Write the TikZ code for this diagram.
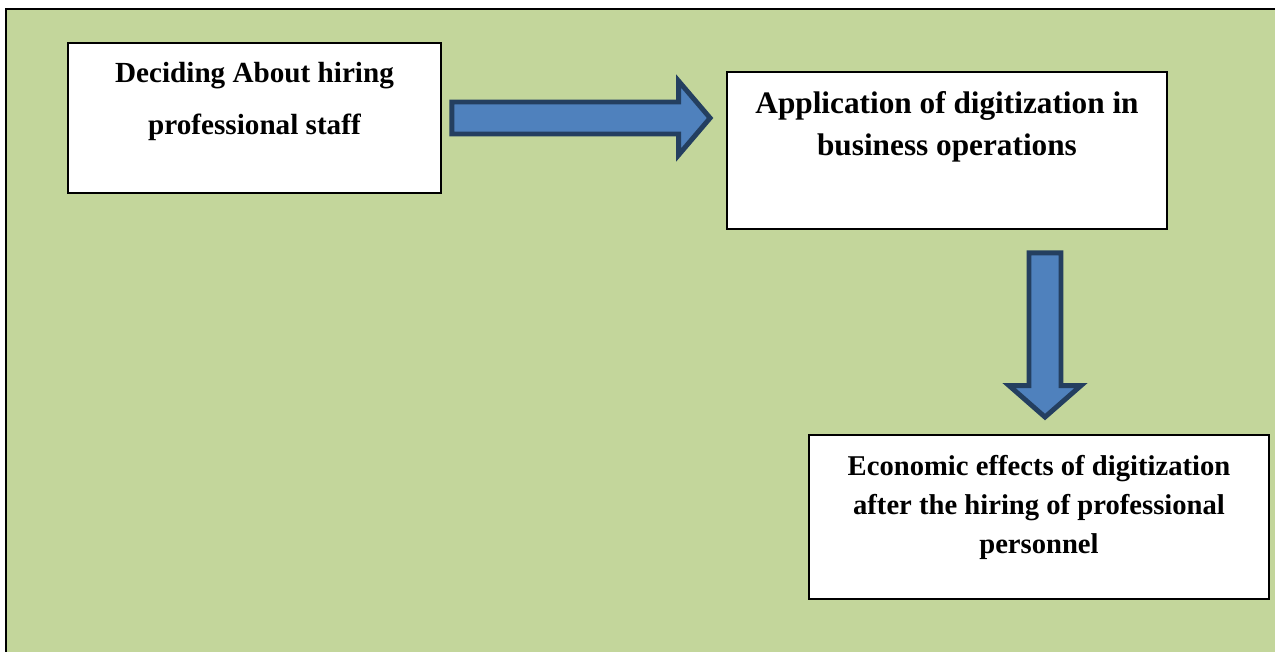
\documentclass[tikz,border=0pt]{standalone}
\usepackage{fontspec}
\setmainfont{Liberation Serif}
\usepackage{xcolor}
\usetikzlibrary{calc}

\definecolor{panelgreen}{HTML}{C3D69B}
\definecolor{arrowfill}{HTML}{4F81BD}
\definecolor{arrowline}{HTML}{243F60}

\begin{document}
\begin{tikzpicture}[
    x=0.02cm, y=-0.02cm,
    box/.style={draw,line width=1.1pt,fill=white,align=center,inner sep=0pt},
    bigarrow/.style={draw=arrowline,fill=arrowfill,line width=2.8pt,line join=miter},
  ]
    \useasboundingbox (0,0) rectangle (1275,652);
    \clip (0,0) rectangle (1275,652);
    \fill[white] (0,0) rectangle (1275,652);
    \draw[line width=1.7pt,fill=panelgreen] (6,9) rectangle (1295,675);

    \node[box,minimum width=7.46cm,minimum height=3cm,text depth=22.6pt,
          font=\fontsize{16.6}{29.5}\selectfont\bfseries] (decide) at (254.5,118)
          {Deciding About hiring\\professional staff};
    \node[box,minimum width=8.8cm,minimum height=3.14cm,text depth=30.7pt,
          font=\fontsize{17.8}{23.8}\selectfont\bfseries] (apply) at (947,150.5)
          {Application of digitization in\\business operations};
    \node[box,minimum width=9.2cm,minimum height=3.28cm,text depth=14.5pt,
          font=\fontsize{16.3}{22}\selectfont\bfseries] (results) at (1039,517)
          {Economic effects of digitization\\after the hiring of professional\\personnel};

    % block arrows between the boxes
    \coordinate (ra) at ($(decide.east)+(10,0)$);
    \coordinate (rb) at ($(decide.east -| apply.west)+(-16,0)$);
    \draw[bigarrow] ($(ra)+(0,-16)$) -- ($(rb)+(-31.5,-16)$) -- ($(rb)+(-31.5,-37)$) -- (rb)
        -- ($(rb)+(-31.5,37)$) -- ($(rb)+(-31.5,16)$) -- ($(ra)+(0,16)$) -- cycle;

    \coordinate (da) at ($(apply.south -| results.north)+(6,23)$);
    \coordinate (db) at ($(results.north)+(6,-17)$);
    \draw[bigarrow] ($(da)+(-16,0)$) -- ($(db)+(-16,-31.5)$) -- ($(db)+(-36,-31.5)$) -- (db)
        -- ($(db)+(36,-31.5)$) -- ($(db)+(16,-31.5)$) -- ($(da)+(16,0)$) -- cycle;
\end{tikzpicture}
\end{document}
